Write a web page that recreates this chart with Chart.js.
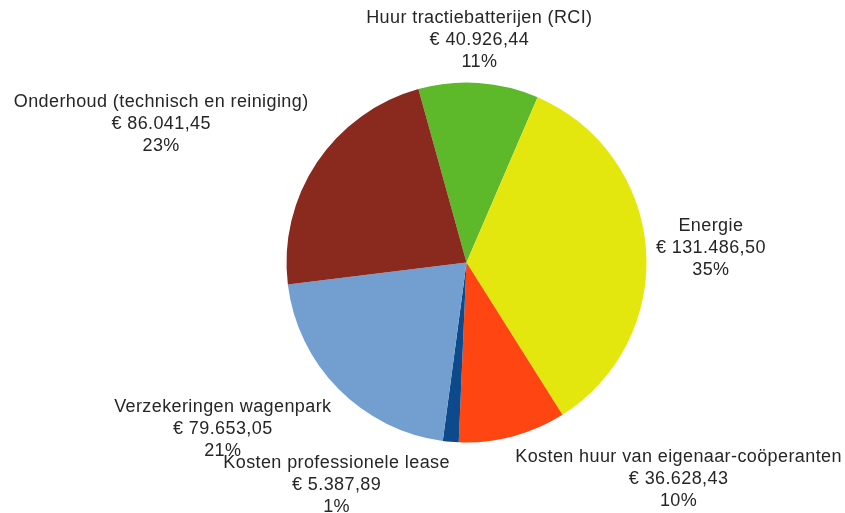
<!DOCTYPE html>
<html>
<head>
<meta charset="utf-8">
<script src="https://cdn.jsdelivr.net/npm/chart.js@4/dist/chart.umd.min.js"></script>
<style>
  html, body { margin: 0; padding: 0; background: #ffffff; }
  #wrap { width: 845px; height: 513px; }
</style>
</head>
<body>
<div id="wrap"><canvas id="c" width="845" height="513"></canvas></div>
<script>
const categories = [
  "Huur tractiebatterijen (RCI)",
  "Energie",
  "Kosten huur van eigenaar-coöperanten",
  "Kosten professionele lease",
  "Verzekeringen wagenpark",
  "Onderhoud (technisch en reiniging)"
];
const amounts = [40926.44, 131486.50, 36628.43, 5387.89, 79653.05, 86041.45];
const amountLabels = ["€ 40.926,44", "€ 131.486,50", "€ 36.628,43", "€ 5.387,89", "€ 79.653,05", "€ 86.041,45"];
const percentLabels = ["11%", "35%", "10%", "1%", "21%", "23%"];
const colors = ["#5db82a", "#e3e70e", "#ff4512", "#0c4a8b", "#739fd0", "#8a2a1f"];

const labelFont = '18px "Liberation Sans", Arial, sans-serif';
const lineH = 22;
const gap = 10;

const outsideLabels = {
  id: 'outsideLabels',
  afterDatasetsDraw(chart) {
    const ctx = chart.ctx;
    const meta = chart.getDatasetMeta(0);
    ctx.save();
    ctx.font = labelFont;
    try { ctx.letterSpacing = '0.4px'; } catch (e) {}
    ctx.fillStyle = '#262626';
    ctx.textBaseline = 'middle';
    ctx.textAlign = 'center';
    meta.data.forEach((arc, i) => {
      const p = arc.getProps(['x', 'y', 'startAngle', 'endAngle', 'outerRadius'], true);
      const mid = (p.startAngle + p.endAngle) / 2;
      const dx = Math.cos(mid), dy = Math.sin(mid);
      const ax = p.x + (p.outerRadius + gap) * dx;
      const ay = p.y + (p.outerRadius + gap) * dy;
      const lines = [categories[i], amountLabels[i], percentLabels[i]];
      const w = Math.max(...lines.map(l => ctx.measureText(l).width));
      const h = lines.length * lineH;
      let left;
      if (dx > 0.078) left = ax;
      else if (dx < -0.078) left = ax - w;
      else left = ax - w / 2;
      let top;
      if (dy < -0.1) top = ay - h;
      else if (dy > 0.1) top = ay;
      else top = ay - h / 2;
      lines.forEach((l, k) => {
        ctx.fillText(l, left + w / 2, top + lineH * (k + 0.5));
      });
    });
    ctx.restore();
  }
};

new Chart(document.getElementById('c'), {
  type: 'pie',
  data: {
    labels: categories,
    datasets: [{
      data: amounts,
      backgroundColor: colors,
      borderWidth: 0
    }]
  },
  options: {
    responsive: false,
    animation: false,
    rotation: -15.5,
    layout: { padding: { left: 286.5, right: 198.5, top: 82.5, bottom: 70.5 } },
    plugins: {
      legend: { display: false },
      tooltip: { enabled: false }
    }
  },
  plugins: [outsideLabels]
});
</script>
</body>
</html>
